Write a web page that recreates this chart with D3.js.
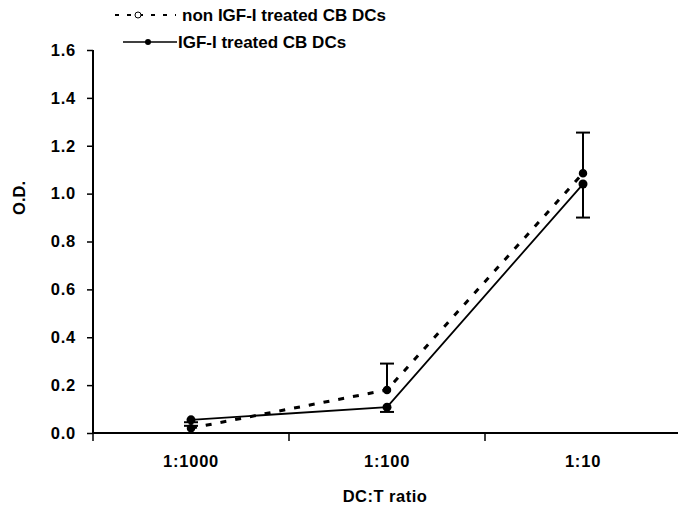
<!DOCTYPE html>
<html>
<head>
<meta charset="utf-8">
<script src="https://cdn.jsdelivr.net/npm/d3@7"></script>
<style>
  body { margin: 0; background: #fff; }
  text { font-family: "Liberation Sans", Arial, sans-serif; font-weight: bold; fill: #000; }
</style>
</head>
<body>
<div id="vizcontainer"></div>
<script>
const
  width = 678,
  height = 506,
  margin = { top: 50, right: 0, bottom: 73, left: 93 };

// data
const ratios = ['1:1000', '1:100', '1:10'];
const nonTreated = [0.02, 0.18, 1.085];
const nonTreatedErr = [0.01, 0.11, 0.17];
const treated = [0.055, 0.108, 1.04];
const treatedErr = [0.01, 0.02, 0.14];
const yTicks = [0, 0.2, 0.4, 0.6, 0.8, 1.0, 1.2, 1.4, 1.6];
const seriesNames = ['non IGF-I treated CB DCs', 'IGF-I treated CB DCs'];

const svg = d3.select('#vizcontainer')
  .append('svg')
  .attr('width', width)
  .attr('height', height);

const x = d3.scaleBand()
  .domain(ratios)
  .range([margin.left, margin.left + 588]);

const y = d3.scaleLinear()
  .domain([0, 1.6])
  .range([height - margin.bottom, margin.top]);

const cx = d => x(d) + x.bandwidth() / 2;

// y axis
const yAxis = svg.append('g')
  .attr('transform', `translate(${margin.left},0)`)
  .call(d3.axisLeft(y).tickValues(yTicks).tickFormat(d3.format('.1f')).tickSize(6).tickPadding(11));

// x axis
const xAxis = svg.append('g')
  .attr('transform', `translate(0,${y(0)})`)
  .call(d3.axisBottom(x).tickSize(0).tickPadding(22));

xAxis.selectAll('.tick text').attr('dy', '0.71em');
svg.selectAll('.domain').remove();
svg.selectAll('.tick text')
  .attr('font-size', '16.5px')
  .attr('letter-spacing', '0.8px')
  .attr('font-family', '"Liberation Sans", Arial, sans-serif')
  .attr('font-weight', 'bold');
yAxis.selectAll('.tick line').attr('stroke-width', 1.5);

svg.append('line')
  .attr('x1', margin.left).attr('x2', margin.left)
  .attr('y1', y(1.6)).attr('y2', y(0) + 1)
  .attr('stroke', '#000').attr('stroke-width', 2);
svg.append('line')
  .attr('x1', margin.left - 1).attr('x2', width)
  .attr('y1', y(0)).attr('y2', y(0))
  .attr('stroke', '#000').attr('stroke-width', 2);

// ticks between categories
svg.append('g')
  .selectAll('line')
  .data(ratios)
  .join('line')
  .attr('x1', d => x(d)).attr('x2', d => x(d))
  .attr('y1', y(0)).attr('y2', y(0) + 8)
  .attr('stroke', '#000').attr('stroke-width', 1.5);

// error bars (one-sided, as drawn)
function errBars(vals, errs, dir) {
  const g = svg.append('g').attr('stroke', '#000').attr('stroke-width', 2);
  vals.forEach((v, i) => {
    const xe = cx(ratios[i]);
    const y0 = y(v), y1 = y(v + dir * errs[i]);
    g.append('line').attr('x1', xe).attr('x2', xe).attr('y1', y0).attr('y2', y1);
    g.append('line').attr('x1', xe - 7).attr('x2', xe + 7).attr('y1', y1).attr('y2', y1);
  });
}
errBars(nonTreated, nonTreatedErr, 1);
errBars(treated, treatedErr, -1);

const line = d3.line()
  .x((d, i) => cx(ratios[i]))
  .y(d => y(d));

svg.append('path')
  .datum(nonTreated)
  .attr('d', line)
  .attr('fill', 'none')
  .attr('stroke', '#000')
  .attr('stroke-width', 3)
  .attr('stroke-dasharray', '6,9');

svg.append('path')
  .datum(treated)
  .attr('d', line)
  .attr('fill', 'none')
  .attr('stroke', '#000')
  .attr('stroke-width', 1.8);

svg.append('g')
  .selectAll('circle')
  .data(nonTreated)
  .join('circle')
  .attr('cx', (d, i) => cx(ratios[i]))
  .attr('cy', d => y(d))
  .attr('r', 3.5)
  .attr('fill', '#000')
  .attr('stroke', '#000')
  .attr('stroke-width', 1.5);

svg.append('g')
  .selectAll('circle')
  .data(treated)
  .join('circle')
  .attr('cx', (d, i) => cx(ratios[i]))
  .attr('cy', d => y(d))
  .attr('r', 4.5)
  .attr('fill', '#000');

// axis titles
svg.append('text')
  .text('O.D.')
  .attr('transform', `translate(25,198) rotate(-90)`)
  .attr('text-anchor', 'middle')
  .attr('font-size', '16.5px');

svg.append('text')
  .text('DC:T ratio')
  .attr('x', 385)
  .attr('y', 502)
  .attr('text-anchor', 'middle')
  .attr('letter-spacing', '0.5px')
  .attr('font-size', '16.5px');

// legend
const legend = svg.append('g');
legend.append('line')
  .attr('x1', 115).attr('x2', 176).attr('y1', 15).attr('y2', 15)
  .attr('stroke', '#000').attr('stroke-width', 2).attr('stroke-dasharray', '4,8');
legend.append('circle')
  .attr('cx', 138).attr('cy', 15).attr('r', 3)
  .attr('fill', '#fff').attr('stroke', '#000').attr('stroke-width', 1);
legend.append('text')
  .text(seriesNames[0])
  .attr('x', 182).attr('y', 21)
  .attr('font-size', '17px');

legend.append('line')
  .attr('x1', 123).attr('x2', 177).attr('y1', 42).attr('y2', 42)
  .attr('stroke', '#000').attr('stroke-width', 1.5);
legend.append('circle')
  .attr('cx', 148).attr('cy', 42).attr('r', 3)
  .attr('fill', '#000');
legend.append('text')
  .text(seriesNames[1])
  .attr('x', 178).attr('y', 48)
  .attr('font-size', '17px');
</script>
</body>
</html>
